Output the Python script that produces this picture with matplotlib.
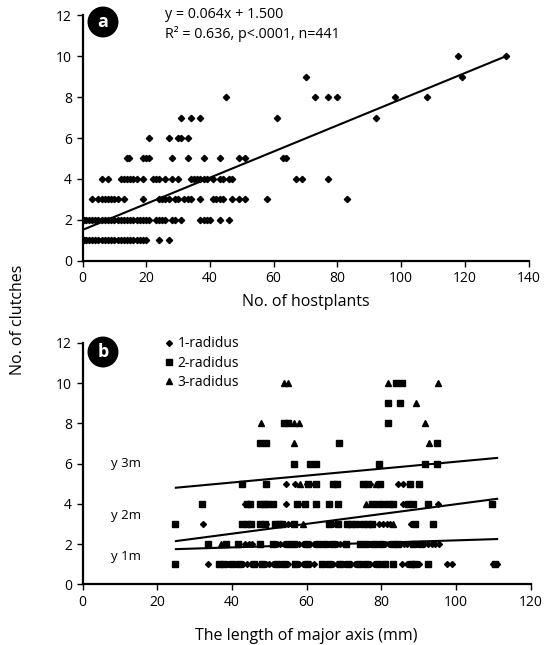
import matplotlib.pyplot as plt

plt.rcParams['font.family'] = ['Open Sans', 'DejaVu Sans']

# ---- panel a: clutches vs hostplants ----
a_x1 = [0.5, 1, 2, 3, 4, 5, 6, 7, 8, 9, 10, 11, 12, 13, 14, 15, 16, 17, 18, 19, 20, 24, 27]
a_x2 = [0.5, 1, 2, 3, 4, 5, 6, 7, 8, 9, 10, 11, 12, 13, 14, 15, 16, 17, 18, 19, 20, 21,
        23, 24, 25, 26, 28, 29, 31, 37, 38, 39, 40, 43, 46]
a_x3 = [3, 5, 6, 7, 8, 9, 10, 11, 13, 19, 24, 25, 26, 27, 29, 30, 32, 33, 34, 37,
        41, 42, 43, 44, 47, 49, 51, 58, 83]
a_x4 = [6, 8, 12, 13, 14, 15, 16, 17, 19, 22, 23, 24, 26, 28, 30, 34, 35, 36, 37, 38, 39,
        41, 43, 44, 46, 47, 67, 69, 77]
a_x5 = [14, 14.5, 19, 20, 21, 28, 33, 38, 43, 49, 51, 63, 64]
a_x6 = [21, 27, 30, 31, 33]
a_x7 = [31, 34, 37, 61, 92]
a_x8 = [45, 73, 77, 80, 98, 108]
a_x9 = [70, 119]
a_x10 = [118, 133]
a_levels = [1, 2, 3, 4, 5, 6, 7, 8, 9, 10]
a_xs = [a_x1, a_x2, a_x3, a_x4, a_x5, a_x6, a_x7, a_x8, a_x9, a_x10]
a_slope, a_icpt = 0.064, 1.5
a_fit_x = [0.7, 133.4]

# ---- panel b: clutches vs major axis ----
r1 = {1: [33.5, 37, 38, 39, 40, 41, 42, 43, 44, 45, 47.5, 48, 49, 50, 51, 52, 53, 54, 55,
          58, 59, 60, 61, 62, 65, 66, 67, 68, 70, 71, 72, 73, 74, 75, 76, 77, 78, 79, 80,
          85.5, 87, 88, 89, 90, 97.5, 99, 110, 111],
      2: [43.5, 44.5, 45.5, 52, 53, 54, 57, 58, 59, 60, 61, 62, 63, 64, 65, 66, 67, 68, 69, 70,
          75, 76, 77, 78, 79, 80, 81, 82, 85, 86, 87, 88, 89.5, 90.5, 91.5, 92.5, 93.5, 94.5, 95.5],
      3: [32.3, 44, 45, 49.2, 55, 56, 66, 67, 72, 79.5, 80.5, 81.5, 82.3, 88],
      4: [43.5, 54.6, 58, 85.8, 95.2],
      5: [54.6, 57, 60, 62, 77, 84.5, 85.8]}
r2 = {1: [24.7, 36.5, 38, 40, 42, 46, 48, 52, 54, 57, 60, 64, 66, 69, 71, 74, 76, 79, 81,
          83.2, 88, 89, 92.5, 110.5],
      2: [33.5, 38.4, 41.7, 47.6, 51, 55, 56.5, 60, 63, 65, 67, 70.5, 74.2, 76, 78, 80, 83,
          84.5, 88.5, 90.5],
      3: [24.7, 42.8, 44, 45.2, 47.5, 48.8, 51.5, 52.5, 53.3, 56.5, 66, 68.4, 70.7, 72, 73.3,
          75.1, 76.5, 77.4, 89, 93.9],
      4: [32.1, 44, 44.8, 47.5, 48.5, 49.5, 51, 57.3, 59.5, 62.5, 66, 68.4, 77.4, 79.1, 80.5,
          82, 83.2, 87.2, 88.5, 92.5, 109.6],
      5: [42.8, 49.0, 60.5, 62.6, 67.1, 68.2, 75.1, 76.5, 79.6, 87.6, 90.1],
      6: [56.7, 61, 62.6, 79.3, 91.6, 95.0],
      7: [47.5, 49.2, 68.6, 95.0],
      8: [53.9, 55.1, 81.8],
      9: [81.8, 85.1],
      10: [84, 85.4]}
r3 = {2: [37.2],
      3: [59, 83.2],
      4: [76],
      5: [58.2, 78.5],
      7: [56.7, 92.8],
      8: [47.9, 56.7, 57.9, 91.6],
      9: [89.2],
      10: [53.9, 55.1, 81.8, 95.2]}
b_fit_x = [25, 111]
b_fit_y = {'y 1m': [1.75, 2.25], 'y 2m': [2.15, 4.25], 'y 3m': [4.8, 6.28]}
b_fit_label_y = {'y 1m': 1.38, 'y 2m': 3.4, 'y 3m': 6.0}


def flatten(d):
    xs, ys = [], []
    for lev, vals in d.items():
        xs += vals
        ys += [lev] * len(vals)
    return xs, ys


def style_axes(ax):
    for s in ['top', 'right']:
        ax.spines[s].set_visible(False)
    for s in ['left', 'bottom']:
        ax.spines[s].set_linewidth(1.6)
    ax.tick_params(direction='out', length=4, width=1, labelsize=10)


fig = plt.figure(figsize=(5.5, 6.45), dpi=100)
ax1 = fig.add_axes([0.150, 0.596, 0.811, 0.380])
ax2 = fig.add_axes([0.150, 0.094, 0.815, 0.3746])

# panel a
for lev, xs in zip(a_levels, a_xs):
    ax1.plot(xs, [lev] * len(xs), 'D', color='black', markersize=3.2, linestyle='none')
ax1.plot(a_fit_x, [a_slope * v + a_icpt for v in a_fit_x], color='black', linewidth=1.5)
ax1.set_xlim(0, 140)
ax1.set_ylim(0, 12)
ax1.set_xticks(range(0, 141, 20))
ax1.set_yticks(range(0, 13, 2))
ax1.set_xlabel("No. of hostplants", fontsize=11.5, labelpad=6)
style_axes(ax1)
ax1.text(0.185, 1.005, "y = 0.064x + 1.500", transform=ax1.transAxes, fontsize=10.3, va='center')
ax1.text(0.185, 0.925, "R² = 0.636, p<.0001, n=441", transform=ax1.transAxes,
         fontsize=10.3, va='center')

# panel b
x1, y1 = flatten(r1)
x2, y2 = flatten(r2)
x3, y3 = flatten(r3)
ax2.plot(x1, y1, 'D', color='black', markersize=3, linestyle='none', label='1-radidus')
ax2.plot(x2, y2, 's', color='black', markersize=4.2, linestyle='none', label='2-radidus')
ax2.plot(x3, y3, '^', color='black', markersize=4.5, linestyle='none', label='3-radidus')
for name, yy in b_fit_y.items():
    ax2.plot(b_fit_x, yy, color='black', linewidth=1.5)
    ax2.text(7.5, b_fit_label_y[name], name, fontsize=9.5, va='center')
ax2.set_xlim(0, 120)
ax2.set_ylim(0, 12)
ax2.set_xticks(range(0, 121, 20))
ax2.set_yticks(range(0, 13, 2))
ax2.set_xlabel("The length of major axis (mm)", fontsize=11.5, labelpad=13)
style_axes(ax2)
ax2.legend(loc='upper left', bbox_to_anchor=(0.16, 1.055), frameon=False, fontsize=10,
           handletextpad=0.1, labelspacing=0.3, borderpad=0, handlelength=1.1)

fig.text(18 / 550, 1 - 320 / 645, "No. of clutches", rotation=90, fontsize=11.5,
         ha='center', va='center')
for lab, ypx in [('a', 22), ('b', 352)]:
    fig.text(103 / 550, 1 - ypx / 645, lab, color='white', fontsize=13, fontweight='bold',
             ha='center', va='center',
             bbox=dict(boxstyle='circle,pad=0.32', fc='black', ec='black'))

fig.savefig('out.png', dpi=100)
